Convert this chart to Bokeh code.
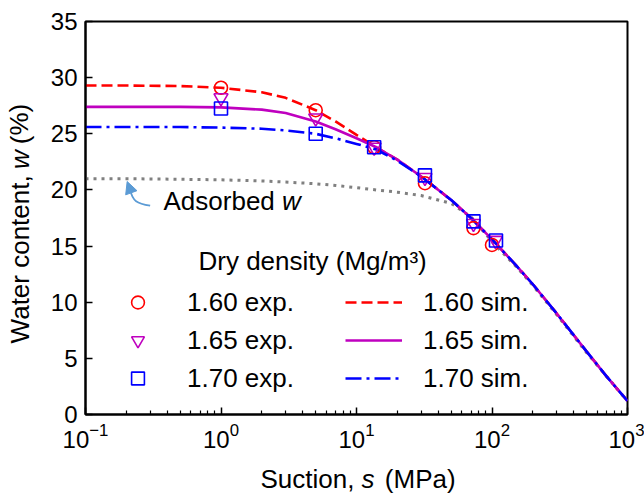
from bokeh.plotting import figure
from bokeh.layouts import row, column
from bokeh.models import (Range1d, FixedTicker, LogTickFormatter, Legend, LegendItem,
                          Label, Arrow, NormalHead)
from bokeh.embed import file_html
from bokeh.resources import INLINE

# ---- measured points: suction (MPa) vs water content (%) ----
suction_exp_160 = [1, 5, 13.5, 32, 73, 100]
suction_exp_165 = [1, 5, 13.5, 32, 73, 106]
suction_exp_170 = [1, 5, 13.5, 32, 73, 107]
w_exp_160 = [29.1, 27.1, 23.8, 20.6, 16.6, 15.1]
w_exp_165 = [28.2, 26.4, 23.8, 21.1, 17.0, 15.5]
w_exp_170 = [27.25, 25.0, 23.8, 21.3, 17.2, 15.5]

# ---- simulated retention curves ----
suction_sim = [0.1, 0.2, 0.5, 1, 2, 3, 5, 7, 10, 14, 20, 30, 50, 70, 100, 150, 200, 300, 500, 700, 1000]
w_sim_160 = [29.3, 29.3, 29.25, 29.1, 28.7, 28.2, 27.1, 26.1, 24.9, 23.8, 22.7, 21.2, 19.1, 17.5, 15.6, 13.3, 11.6, 9.0, 5.6, 3.4, 1.2]
w_sim_165 = [27.4, 27.4, 27.4, 27.35, 27.15, 26.85, 26.1, 25.4, 24.6, 23.8, 22.7, 21.2, 19.1, 17.5, 15.6, 13.3, 11.6, 9.0, 5.6, 3.4, 1.2]
w_sim_170 = [25.6, 25.6, 25.6, 25.55, 25.45, 25.3, 25.0, 24.6, 24.1, 23.6, 22.6, 21.2, 19.1, 17.5, 15.6, 13.3, 11.6, 9.0, 5.6, 3.4, 1.2]
w_adsorbed = [21.0, 21.0, 20.95, 20.9, 20.8, 20.7, 20.55, 20.4, 20.2, 20.0, 19.8, 19.5, 18.8, 17.6, 15.4, 13.2, 11.5, 8.9, 5.5, 3.4, 1.2]

x_ticks = [0.1, 1, 10, 100, 1000]
x_minor = [m * d for d in (0.1, 1, 10, 100) for m in range(2, 10)]
y_ticks = [0, 5, 10, 15, 20, 25, 30, 35]

FONT = "Liberation Sans"
RED, MAGENTA, BLUE, GREY, ARROW = "#ff0000", "#bf00bf", "#0000ff", "#808080", "#5b9bd5"

# Arial/Liberation Sans advance widths (em) used to set italic pieces inline
ADV = {"W": .944, "a": .556, "t": .278, "e": .556, "r": .333, " ": .278, "c": .5, "o": .556,
       "n": .556, ",": .278, "(": .333, "%": .889, ")": .333, "S": .667, "u": .556, "i": .222,
       "M": .833, "P": .667, "s": .5, "w": .722, "A": .667, "d": .556, "b": .556}


def text_width(s, size):
    return sum(ADV[ch] for ch in s) * size


# page geometry: a strip for the y title, the chart, and a strip for the x title
W, H = 644, 496
YSTRIP, XSTRIP = 44, 38
MAIN_W, MAIN_H = W - YSTRIP, H - XSTRIP
F_LEFT, F_RIGHT, F_TOP, F_BOTTOM = 85, 627, 21, 414   # frame edges on the page
TXT = 26                                              # size of titles, legend and note

p = figure(width=MAIN_W, height=MAIN_H, x_axis_type="log", output_backend="svg",
           toolbar_location=None, x_range=Range1d(0.1, 1000), y_range=Range1d(0, 35),
           min_border_left=F_LEFT - YSTRIP, min_border_right=W - F_RIGHT,
           min_border_top=F_TOP, min_border_bottom=MAIN_H - F_BOTTOM)
p.background_fill_color = "white"
p.border_fill_color = "white"
p.grid.visible = False
p.outline_line_color = "black"
p.outline_line_width = 2

for ax in (p.xaxis[0], p.yaxis[0]):
    ax.axis_line_width = 2
    ax.axis_line_color = "black"
    ax.major_tick_in = 7
    ax.major_tick_out = 0
    ax.minor_tick_in = 4
    ax.minor_tick_out = 0
    ax.major_tick_line_width = 1.5
    ax.minor_tick_line_width = 1.2
    ax.major_label_text_font = FONT
    ax.major_label_text_font_size = "24px"
    ax.major_label_text_color = "black"
    ax.major_label_standoff = 8

p.xaxis.ticker = FixedTicker(ticks=x_ticks, minor_ticks=x_minor)
p.xaxis.formatter = LogTickFormatter()
p.yaxis.ticker = FixedTicker(ticks=y_ticks, minor_ticks=[])

# curves
r_ads = p.line(suction_sim, w_adsorbed, line_color=GREY, line_width=3, line_dash="3 5")
r_s160 = p.line(suction_sim, w_sim_160, line_color=RED, line_width=2.6, line_dash="11 5")
r_s165 = p.line(suction_sim, w_sim_165, line_color=MAGENTA, line_width=2.6)
r_s170 = p.line(suction_sim, w_sim_170, line_color=BLUE, line_width=2.6, line_dash="16 5 3 5")

# measured points
r_e160 = p.scatter(suction_exp_160, w_exp_160, marker="circle", size=13, fill_alpha=0,
                   line_color=RED, line_width=1.6)
r_e165 = p.scatter(suction_exp_165, w_exp_165, marker="inverted_triangle", size=14, fill_alpha=0,
                   line_color=MAGENTA, line_width=1.6)
r_e170 = p.scatter(suction_exp_170, w_exp_170, marker="square", size=13, fill_alpha=0,
                   line_color=BLUE, line_width=1.6)

legend = Legend(items=[
    LegendItem(label="1.60 exp.", renderers=[r_e160]),
    LegendItem(label="1.65 exp.", renderers=[r_e165]),
    LegendItem(label="1.70 exp.", renderers=[r_e170]),
    LegendItem(label="1.60 sim.", renderers=[r_s160]),
    LegendItem(label="1.65 sim.", renderers=[r_s165]),
    LegendItem(label="1.70 sim.", renderers=[r_s170]),
], ncols=2, orientation="vertical", location=(24, 20), padding=0, margin=0,
    glyph_width=57, glyph_height=32, label_standoff=21, spacing=6, label_width=152,
    label_text_font=FONT, label_text_font_size=f"{TXT}px", label_text_color="black",
    background_fill_alpha=0, border_line_alpha=0)
p.add_layout(legend)

p.add_layout(Label(x=113, y=154, x_units="screen", y_units="screen",
                   text="Dry density (Mg/m³)", text_font=FONT, text_font_size=f"{TXT}px",
                   text_color="black", text_baseline="alphabetic"))

# annotation for the adsorbed water curve
p.bezier(x0=[0.30], y0=[18.6], x1=[0.214], y1=[20.0], cx0=[0.24], cy0=[18.8],
         cx1=[0.222], cy1=[19.0], line_color=ARROW, line_width=1.8)
p.add_layout(Arrow(x_start=0.214, y_start=20.0, x_end=0.203, y_end=20.75,
                   line_alpha=0, end=NormalHead(size=12, fill_color=ARROW, line_color=ARROW)))
ann_x, ann_y = 78, 199
p.add_layout(Label(x=ann_x, y=ann_y, x_units="screen", y_units="screen", text="Adsorbed",
                   text_font=FONT, text_font_size=f"{TXT}px", text_color="black"))
p.add_layout(Label(x=ann_x + text_width("Adsorbed ", TXT), y=ann_y, x_units="screen",
                   y_units="screen", text="w", text_font=FONT, text_font_size=f"{TXT}px",
                   text_font_style="italic", text_color="black"))


# ---- axis titles (with italic symbols) drawn in their own strips ----
def strip(width, height):
    f = figure(width=width, height=height, output_backend="svg", toolbar_location=None,
               title_location=None, x_range=Range1d(0, width), y_range=Range1d(0, height),
               x_axis_location=None, y_axis_location=None, min_border=0)
    f.grid.visible = False
    f.outline_line_color = None
    f.background_fill_color = "white"
    f.border_fill_color = "white"
    return f


def add_title(fig, before, symbol, after, x, y, angle):
    """Title set around an italic symbol anchored at (x, y)."""
    vertical = angle != 0
    gap = text_width(" ", TXT)
    sym_w = text_width(symbol, TXT) + 3   # room for the italic overhang

    def at(d):
        return (x, y + d) if vertical else (x + d, y)

    common = dict(angle=angle, text_font=FONT, text_font_size=f"{TXT}px",
                  text_color="black", text_baseline="alphabetic")
    bx, by = at(-gap)
    fig.add_layout(Label(x=bx, y=by, text=before, text_align="right", **common))
    fig.add_layout(Label(x=x, y=y, text=symbol, text_align="left",
                         text_font_style="italic", **common))
    ax_, ay_ = at(sym_w + gap)
    fig.add_layout(Label(x=ax_, y=ay_, text=after, text_align="left", **common))


xt = strip(W, XSTRIP)
x_total = text_width("Suction, s (MPa)", TXT)
s_x = (F_LEFT + F_RIGHT) / 2 - x_total / 2 + text_width("Suction, ", TXT)
add_title(xt, "Suction,", "s", "(MPa)", s_x, 18, 0)

yt = strip(YSTRIP, MAIN_H)
w_bottom = 172          # page y where the italic w starts
add_title(yt, "Water content,", "w", "(%)", 19, MAIN_H - w_bottom, 1.5708)

page = column(row(yt, p, spacing=0), xt, spacing=0)
open("out.html", "w").write(file_html(page, INLINE))
